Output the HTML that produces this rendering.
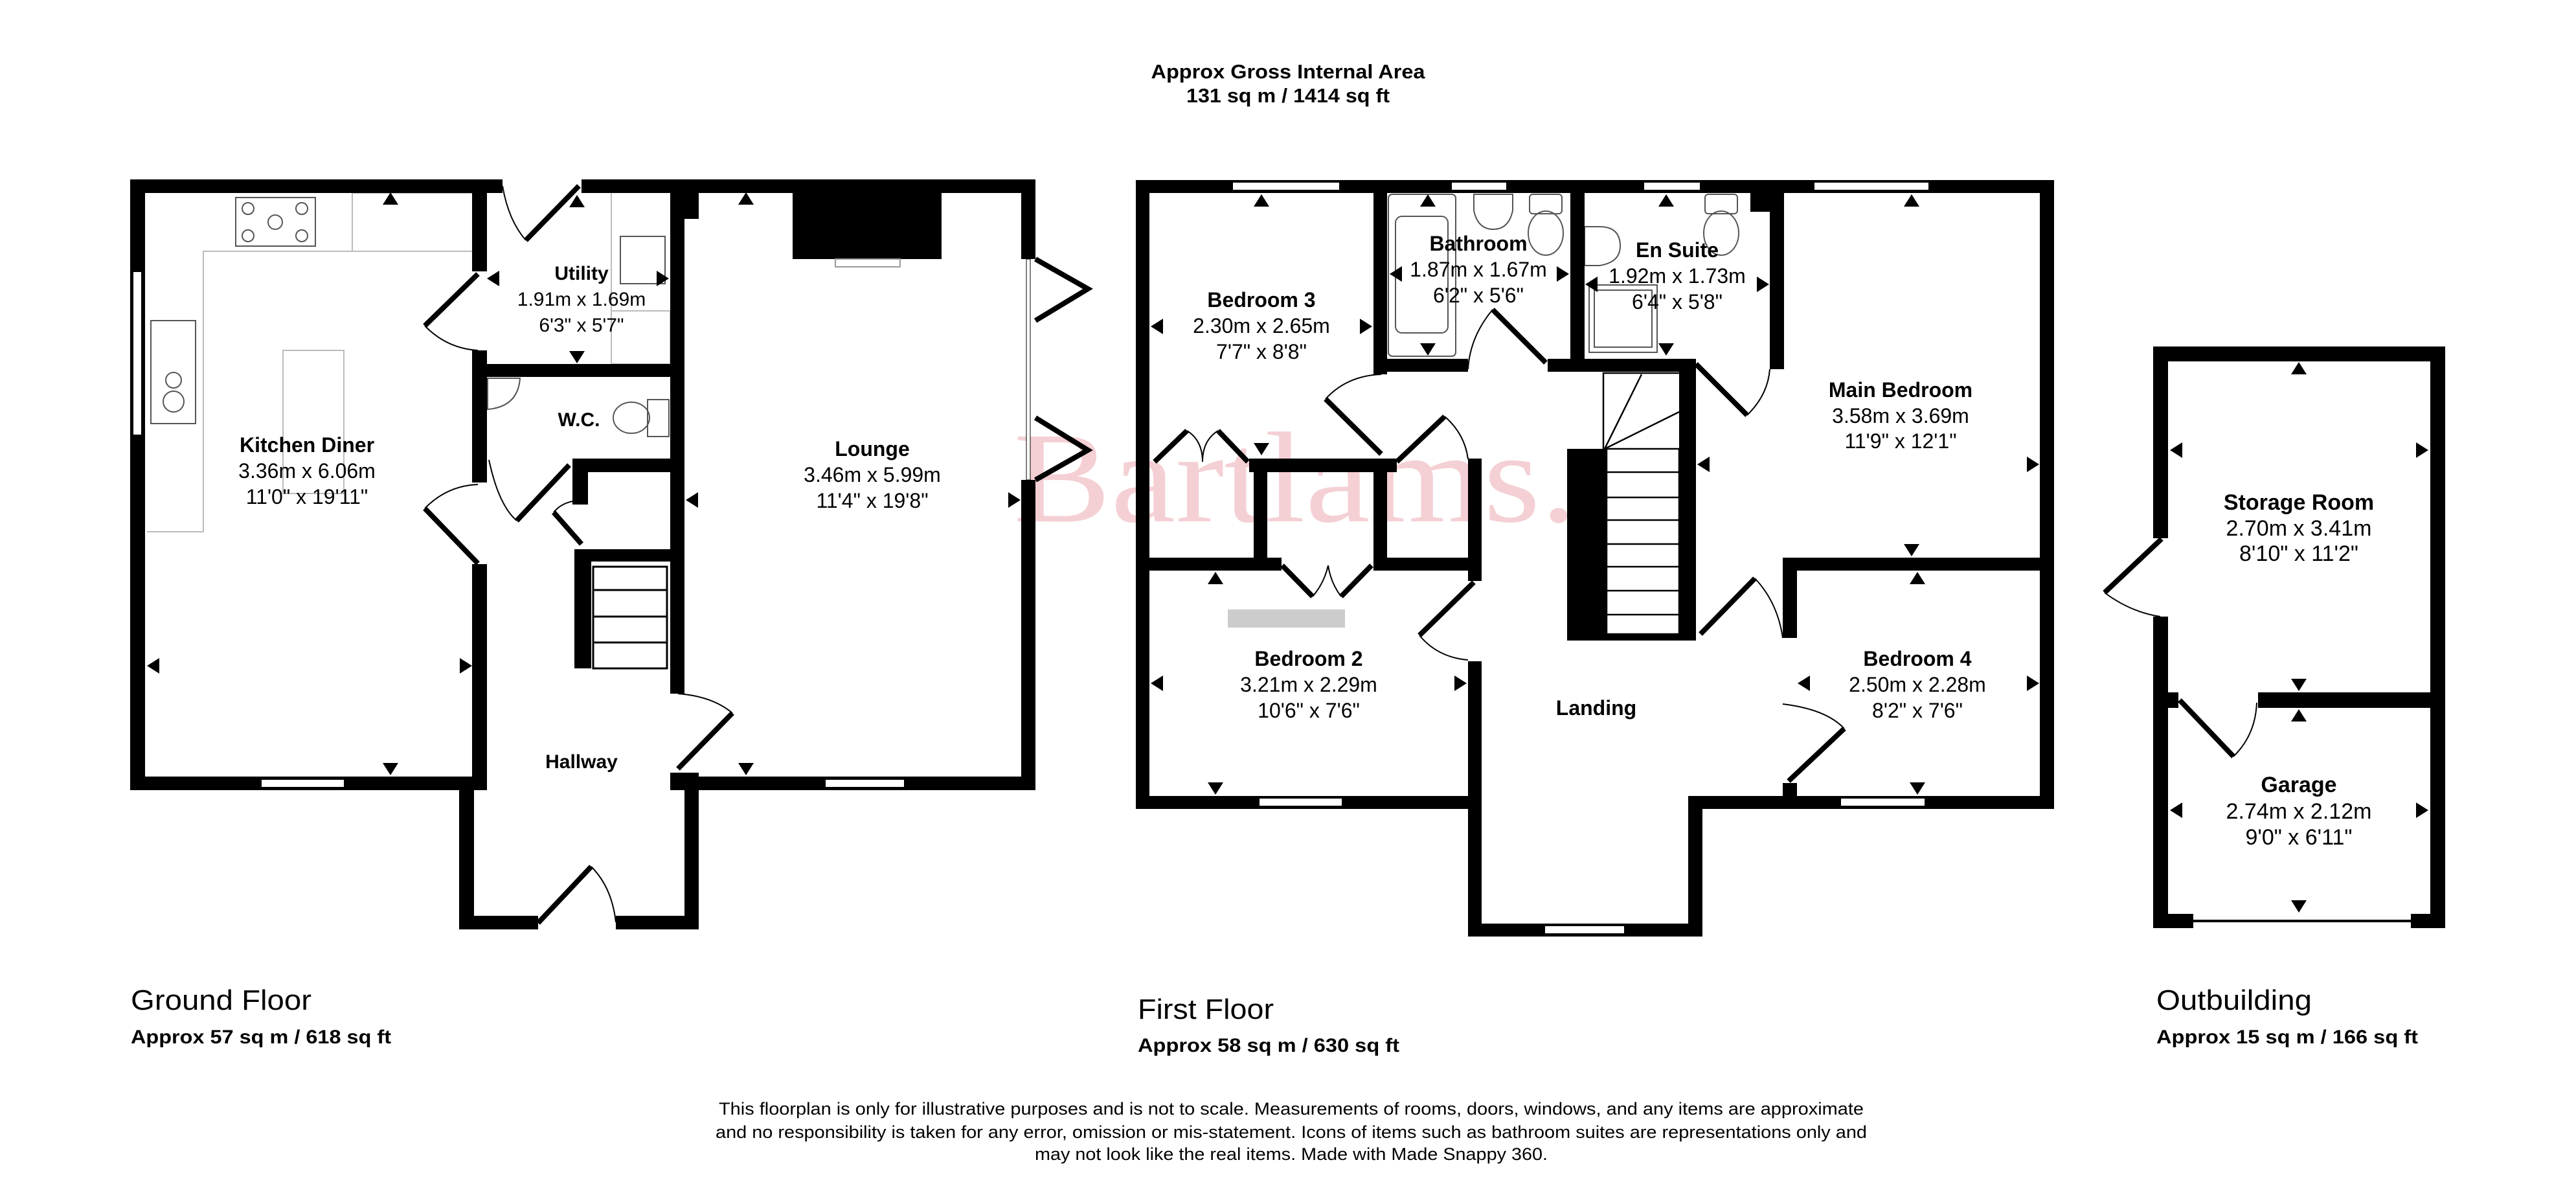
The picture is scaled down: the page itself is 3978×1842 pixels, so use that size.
<!DOCTYPE html>
<html><head><meta charset="utf-8"><style>html,body{margin:0;padding:0;background:#fff}svg{display:block}</style></head><body>
<svg xmlns="http://www.w3.org/2000/svg" xmlns:xlink="http://www.w3.org/1999/xlink" width="3978" height="1842" viewBox="0 0 3978 1842" font-family="Liberation Sans, Arial, sans-serif">
<defs>
<path id="au" d="M-12,9 L12,9 L0,-10 Z" fill="#000"/>
</defs>
<rect width="3978" height="1842" fill="#fff"/>
<text x="2000" y="805" font-family="Liberation Serif, serif" font-size="200" fill="#f4d0d4" text-anchor="middle" textLength="870" lengthAdjust="spacingAndGlyphs">Bartlams.</text>

<g font-weight="bold" font-size="31" text-anchor="middle">
<text x="1989" y="121" textLength="423" lengthAdjust="spacingAndGlyphs">Approx Gross Internal Area</text>
<text x="1989" y="158" textLength="314" lengthAdjust="spacingAndGlyphs">131 sq m / 1414 sq ft</text>
</g>

<!-- GROUND FLOOR -->
<g fill="none" stroke="#bbb" stroke-width="2">
<polyline points="227,821 314,821 314,388 731,388"/>
<rect x="544" y="298" width="187" height="90"/>
<rect x="437" y="541" width="94" height="221"/>
<rect x="364" y="305" width="123" height="75" stroke="#555"/>
<rect x="233" y="495" width="69" height="159" stroke="#555"/>
<rect x="958" y="365" width="69" height="73" stroke="#555"/>
<line x1="944" y1="298" x2="944" y2="562"/>
<rect x="944" y="480" width="91" height="82"/>
<rect x="1000" y="617" width="33" height="57" stroke="#555"/>
<ellipse cx="975" cy="645" rx="28" ry="24" stroke="#555"/>
<path d="M753,584 L803,584 Q800,628 753,632 Z" stroke="#555"/>
</g>
<g fill="none" stroke="#555" stroke-width="2">
<circle cx="383" cy="322" r="9"/><circle cx="383" cy="364" r="9"/><circle cx="425" cy="343" r="11"/><circle cx="466" cy="322" r="9"/><circle cx="466" cy="364" r="9"/>
<circle cx="268" cy="587" r="12"/><circle cx="268" cy="620" r="16"/>
</g>
<rect x="1224" y="298" width="230" height="102" fill="#000"/>
<rect x="1290" y="400" width="100" height="12" fill="none" stroke="#999" stroke-width="2"/>
<g fill="#000">
<rect x="201" y="277" width="575" height="21"/>
<rect x="898" y="277" width="701" height="21"/>
<rect x="201" y="277" width="23" height="943"/>
<rect x="201" y="1199" width="530" height="21"/>
<rect x="729" y="277" width="23" height="142"/>
<rect x="729" y="541" width="23" height="204"/>
<rect x="709" y="1199" width="23" height="236"/>
<rect x="729" y="871" width="23" height="349"/>
<rect x="709" y="1414" width="122" height="21"/>
<rect x="951" y="1414" width="128" height="21"/>
<rect x="1057" y="1193" width="22" height="242"/>
<rect x="1035" y="1199" width="564" height="21"/>
<rect x="1035" y="277" width="22" height="794"/>
<rect x="1035" y="1193" width="22" height="27"/>
<rect x="1577" y="277" width="22" height="123"/>
<rect x="1577" y="741" width="22" height="479"/>
<rect x="1057" y="298" width="22" height="40"/>
<rect x="729" y="562" width="328" height="20"/>
<rect x="884" y="708" width="173" height="21"/>
<rect x="884" y="708" width="24" height="71"/>
<rect x="887" y="848" width="150" height="19"/>
<rect x="887" y="848" width="26" height="184"/>
</g>
<g fill="#fff" stroke="#000" stroke-width="2">
<rect x="205" y="419" width="14" height="253"/>
<rect x="403" y="1203" width="129" height="13"/>
<rect x="1274" y="1203" width="123" height="13"/>
<rect x="1585" y="400" width="6" height="341" stroke-width="1"/>
</g>
<g fill="none" stroke="#000" stroke-width="3">
<rect x="916" y="875" width="114" height="157"/>
<line x1="916" y1="911" x2="1030" y2="911"/><line x1="916" y1="952" x2="1030" y2="952"/><line x1="916" y1="992" x2="1030" y2="992"/>
</g>
<g fill="none" stroke="#000">
<g stroke-width="8">
<line x1="812" y1="371" x2="894" y2="287"/>
<line x1="656" y1="503" x2="738" y2="423"/>
<line x1="656" y1="785" x2="738" y2="870"/>
<line x1="798" y1="804" x2="879" y2="718"/>
<line x1="855" y1="791" x2="898" y2="840"/>
<line x1="1047" y1="1187" x2="1131" y2="1101"/>
<line x1="831" y1="1425" x2="913" y2="1338"/>
<polyline points="1599,400 1680,446 1599,495"/>
<polyline points="1599,645 1680,695 1599,741"/>
</g>
<g stroke-width="2">
<path d="M812,371 Q785,340 776,287"/>
<path d="M656,503 Q690,538 738,541"/>
<path d="M656,785 Q690,750 738,748"/>
<path d="M798,804 Q770,780 755,710"/>
<path d="M855,791 Q870,772 903,772"/>
<path d="M1131,1101 Q1100,1075 1047,1071"/>
<path d="M913,1338 Q945,1370 951,1424"/>
</g>
</g>
<use xlink:href="#au" transform="translate(603,307)"/>
<use xlink:href="#au" transform="translate(603,1187) rotate(180)"/>
<use xlink:href="#au" transform="translate(237,1028) rotate(-90)"/>
<use xlink:href="#au" transform="translate(719,1028) rotate(90)"/>
<use xlink:href="#au" transform="translate(762,430) rotate(-90)"/>
<use xlink:href="#au" transform="translate(1023,430) rotate(90)"/>
<use xlink:href="#au" transform="translate(891,311)"/>
<use xlink:href="#au" transform="translate(891,551) rotate(180)"/>
<use xlink:href="#au" transform="translate(1152,307)"/>
<use xlink:href="#au" transform="translate(1152,1187) rotate(180)"/>
<use xlink:href="#au" transform="translate(1069,772) rotate(-90)"/>
<use xlink:href="#au" transform="translate(1566,772) rotate(90)"/>
<g font-size="32" text-anchor="middle">
<text x="474" y="698" font-weight="bold">Kitchen Diner</text>
<text x="474" y="738">3.36m x 6.06m</text>
<text x="474" y="778">11'0" x 19'11"</text>
<text x="898" y="432" font-weight="bold" font-size="30">Utility</text>
<text x="898" y="472" font-size="30">1.91m x 1.69m</text>
<text x="898" y="512" font-size="30">6'3" x 5'7"</text>
<text x="894" y="658" font-weight="bold" font-size="30">W.C.</text>
<text x="1347" y="704" font-weight="bold">Lounge</text>
<text x="1347" y="744">3.46m x 5.99m</text>
<text x="1347" y="784">11'4" x 19'8"</text>
<text x="898" y="1186" font-weight="bold" font-size="30">Hallway</text>
</g>

<!-- FIRST FLOOR -->
<g fill="none" stroke="#555" stroke-width="2">
<rect x="2144" y="300" width="104" height="250" rx="6"/>
<rect x="2155" y="334" width="81" height="180" rx="10"/>
<path d="M2276,300 L2336,300 L2336,325 Q2330,354 2306,354 Q2282,354 2276,325 Z"/>
<rect x="2362" y="300" width="50" height="30" rx="5"/>
<ellipse cx="2387" cy="360" rx="27" ry="34"/>
<rect x="2633" y="300" width="50" height="30" rx="5"/>
<ellipse cx="2658" cy="360" rx="27" ry="34"/>
<path d="M2447,350 L2447,410 L2470,410 Q2502,405 2502,380 Q2502,350 2470,350 Z"/>
<rect x="2454" y="440" width="105" height="104"/>
<rect x="2462" y="448" width="89" height="88"/>
</g>
<rect x="1896" y="941" width="181" height="28" fill="#ccc"/>
<g fill="#000">
<rect x="1754" y="278" width="1418" height="20"/>
<rect x="1754" y="278" width="21" height="971"/>
<rect x="3150" y="278" width="22" height="971"/>
<rect x="1754" y="1229" width="534" height="20"/>
<rect x="2267" y="1021" width="21" height="425"/>
<rect x="2267" y="1426" width="362" height="20"/>
<rect x="2607" y="1229" width="22" height="217"/>
<rect x="2607" y="1229" width="565" height="20"/>
<rect x="2121" y="278" width="21" height="300"/>
<rect x="2121" y="554" width="146" height="20"/>
<rect x="2390" y="554" width="229" height="20"/>
<rect x="2425" y="278" width="22" height="296"/>
<rect x="2733" y="278" width="22" height="292"/>
<rect x="2703" y="278" width="52" height="49"/>
<rect x="2593" y="554" width="26" height="427"/>
<rect x="2420" y="693" width="61" height="296"/>
<rect x="2420" y="979" width="199" height="10"/>
<rect x="1929" y="708" width="228" height="21"/>
<rect x="1936" y="708" width="21" height="153"/>
<rect x="2121" y="708" width="21" height="173"/>
<rect x="1754" y="861" width="225" height="20"/>
<rect x="2121" y="861" width="167" height="20"/>
<rect x="2267" y="708" width="21" height="189"/>
<rect x="2753" y="861" width="419" height="20"/>
<rect x="2753" y="861" width="22" height="124"/>
<rect x="2753" y="1209" width="22" height="40"/>
</g>
<g fill="#fff" stroke="#000" stroke-width="2">
<rect x="1903" y="281" width="166" height="13"/>
<rect x="2241" y="281" width="86" height="13"/>
<rect x="2538" y="281" width="88" height="13"/>
<rect x="2801" y="281" width="178" height="13"/>
<rect x="1944" y="1232" width="129" height="13"/>
<rect x="2385" y="1429" width="124" height="13"/>
<rect x="2842" y="1232" width="131" height="13"/>
</g>
<g fill="none" stroke="#000" stroke-width="2.5">
<rect x="2481" y="693" width="112" height="286"/>
<line x1="2481" y1="729" x2="2593" y2="729"/><line x1="2481" y1="768" x2="2593" y2="768"/><line x1="2481" y1="803" x2="2593" y2="803"/><line x1="2481" y1="840" x2="2593" y2="840"/><line x1="2481" y1="875" x2="2593" y2="875"/><line x1="2481" y1="912" x2="2593" y2="912"/><line x1="2481" y1="949" x2="2593" y2="949"/>
<polyline points="2476,693 2476,576 2593,576"/>
<line x1="2478" y1="693" x2="2535" y2="578"/>
<line x1="2478" y1="693" x2="2593" y2="636"/>
</g>
<g fill="none" stroke="#000">
<g stroke-width="8">
<line x1="2047" y1="616" x2="2133" y2="701"/>
<line x1="2157" y1="713" x2="2231" y2="643"/>
<polyline points="1783,713 1833,665"/>
<polyline points="1881,665 1927,713"/>
<line x1="1980" y1="873" x2="2027" y2="921"/>
<line x1="2071" y1="921" x2="2118" y2="873"/>
<line x1="2192" y1="981" x2="2276" y2="899"/>
<line x1="2305" y1="478" x2="2387" y2="560"/>
<line x1="2619" y1="562" x2="2698" y2="641"/>
<line x1="2626" y1="979" x2="2710" y2="893"/>
<line x1="2848" y1="1125" x2="2762" y2="1206"/>
</g>
<g stroke-width="2">
<path d="M2047,616 Q2080,580 2133,578"/>
<path d="M2231,643 Q2262,670 2267,709"/>
<path d="M1833,665 Q1857,680 1857,713 M1881,665 Q1857,680 1857,713"/>
<path d="M2027,921 Q2045,900 2051,873 M2071,921 Q2055,900 2051,873"/>
<path d="M2192,981 Q2220,1015 2267,1019"/>
<path d="M2305,478 Q2270,520 2267,570"/>
<path d="M2698,641 Q2730,610 2733,570"/>
<path d="M2710,893 Q2745,930 2753,985"/>
<path d="M2753,1087 Q2820,1095 2848,1125"/>
</g>
</g>
<use xlink:href="#au" transform="translate(1948,310)"/>
<use xlink:href="#au" transform="translate(1948,693) rotate(180)"/>
<use xlink:href="#au" transform="translate(1787,504) rotate(-90)"/>
<use xlink:href="#au" transform="translate(2109,504) rotate(90)"/>
<use xlink:href="#au" transform="translate(2205,310)"/>
<use xlink:href="#au" transform="translate(2205,539) rotate(180)"/>
<use xlink:href="#au" transform="translate(2156,423) rotate(-90)"/>
<use xlink:href="#au" transform="translate(2413,423) rotate(90)"/>
<use xlink:href="#au" transform="translate(2573,310)"/>
<use xlink:href="#au" transform="translate(2573,539) rotate(180)"/>
<use xlink:href="#au" transform="translate(2458,439) rotate(-90)"/>
<use xlink:href="#au" transform="translate(2722,439) rotate(90)"/>
<use xlink:href="#au" transform="translate(2952,310)"/>
<use xlink:href="#au" transform="translate(2952,849) rotate(180)"/>
<use xlink:href="#au" transform="translate(2631,717) rotate(-90)"/>
<use xlink:href="#au" transform="translate(3139,717) rotate(90)"/>
<use xlink:href="#au" transform="translate(1877,893)"/>
<use xlink:href="#au" transform="translate(1877,1217) rotate(180)"/>
<use xlink:href="#au" transform="translate(1787,1055) rotate(-90)"/>
<use xlink:href="#au" transform="translate(2255,1055) rotate(90)"/>
<use xlink:href="#au" transform="translate(2961,893)"/>
<use xlink:href="#au" transform="translate(2961,1217) rotate(180)"/>
<use xlink:href="#au" transform="translate(2786,1055) rotate(-90)"/>
<use xlink:href="#au" transform="translate(3139,1055) rotate(90)"/>
<g font-size="32" text-anchor="middle">
<text x="1948" y="474" font-weight="bold">Bedroom 3</text>
<text x="1948" y="514">2.30m x 2.65m</text>
<text x="1948" y="554">7'7" x 8'8"</text>
<text x="2283" y="387" font-weight="bold">Bathroom</text>
<text x="2283" y="427">1.87m x 1.67m</text>
<text x="2283" y="467">6'2" x 5'6"</text>
<text x="2590" y="397" font-weight="bold">En Suite</text>
<text x="2590" y="437">1.92m x 1.73m</text>
<text x="2590" y="477">6'4" x 5'8"</text>
<text x="2935" y="613" font-weight="bold">Main Bedroom</text>
<text x="2935" y="653">3.58m x 3.69m</text>
<text x="2935" y="692">11'9" x 12'1"</text>
<text x="2021" y="1028" font-weight="bold">Bedroom 2</text>
<text x="2021" y="1068">3.21m x 2.29m</text>
<text x="2021" y="1108">10'6" x 7'6"</text>
<text x="2465" y="1104" font-weight="bold">Landing</text>
<text x="2961" y="1028" font-weight="bold">Bedroom 4</text>
<text x="2961" y="1068">2.50m x 2.28m</text>
<text x="2961" y="1108">8'2" x 7'6"</text>
</g>

<!-- OUTBUILDING -->
<g fill="#000">
<rect x="3325" y="535" width="451" height="23"/>
<rect x="3325" y="535" width="23" height="296"/>
<rect x="3325" y="952" width="23" height="481"/>
<rect x="3753" y="535" width="23" height="898"/>
<rect x="3325" y="1069" width="39" height="24"/>
<rect x="3487" y="1069" width="289" height="24"/>
<rect x="3325" y="1411" width="62" height="22"/>
<rect x="3723" y="1411" width="53" height="22"/>
</g>
<line x1="3387" y1="1422" x2="3723" y2="1422" stroke="#000" stroke-width="4"/>
<g fill="none" stroke="#000">
<line x1="3338" y1="832" x2="3250" y2="915" stroke-width="8"/>
<line x1="3366" y1="1081" x2="3449" y2="1168" stroke-width="8"/>
<path d="M3250,915 Q3290,945 3336,952" stroke-width="2"/>
<path d="M3449,1168 Q3483,1135 3485,1085" stroke-width="2"/>
</g>
<use xlink:href="#au" transform="translate(3550,569)"/>
<use xlink:href="#au" transform="translate(3550,1057) rotate(180)"/>
<use xlink:href="#au" transform="translate(3361,695) rotate(-90)"/>
<use xlink:href="#au" transform="translate(3740,695) rotate(90)"/>
<use xlink:href="#au" transform="translate(3550,1105)"/>
<use xlink:href="#au" transform="translate(3550,1399) rotate(180)"/>
<use xlink:href="#au" transform="translate(3361,1251) rotate(-90)"/>
<use xlink:href="#au" transform="translate(3740,1251) rotate(90)"/>
<g font-size="34" text-anchor="middle">
<text x="3550" y="787" font-weight="bold">Storage Room</text>
<text x="3550" y="827">2.70m x 3.41m</text>
<text x="3550" y="866">8'10" x 11'2"</text>
<text x="3550" y="1223" font-weight="bold">Garage</text>
<text x="3550" y="1264">2.74m x 2.12m</text>
<text x="3550" y="1304">9'0" x 6'11"</text>
</g>

<g>
<text x="202" y="1559" font-size="44" textLength="279" lengthAdjust="spacingAndGlyphs">Ground Floor</text>
<text x="202" y="1611" font-size="30" font-weight="bold" textLength="402" lengthAdjust="spacingAndGlyphs">Approx 57 sq m / 618 sq ft</text>
<text x="1757" y="1573" font-size="44" textLength="210" lengthAdjust="spacingAndGlyphs">First Floor</text>
<text x="1757" y="1624" font-size="30" font-weight="bold" textLength="404" lengthAdjust="spacingAndGlyphs">Approx 58 sq m / 630 sq ft</text>
<text x="3330" y="1559" font-size="44" textLength="240" lengthAdjust="spacingAndGlyphs">Outbuilding</text>
<text x="3330" y="1611" font-size="30" font-weight="bold" textLength="404" lengthAdjust="spacingAndGlyphs">Approx 15 sq m / 166 sq ft</text>
</g>
<g font-size="27" text-anchor="middle">
<text x="1994" y="1721" textLength="1768" lengthAdjust="spacingAndGlyphs">This floorplan is only for illustrative purposes and is not to scale. Measurements of rooms, doors, windows, and any items are approximate</text>
<text x="1994" y="1757" textLength="1778" lengthAdjust="spacingAndGlyphs">and no responsibility is taken for any error, omission or mis-statement. Icons of items such as bathroom suites are representations only and</text>
<text x="1994" y="1791" textLength="792" lengthAdjust="spacingAndGlyphs">may not look like the real items. Made with Made Snappy 360.</text>
</g>
</svg>
</body></html>
